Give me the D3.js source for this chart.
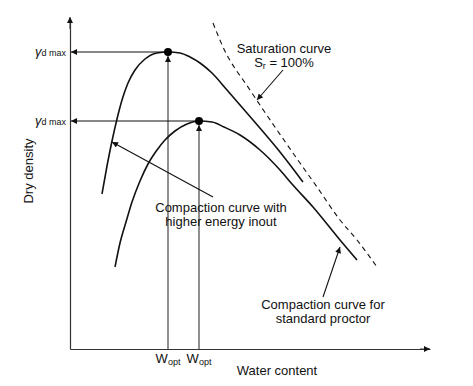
<!DOCTYPE html>
<html>
<head>
<meta charset="utf-8">
<script src="https://cdn.jsdelivr.net/npm/d3@7"></script>
<style>
  body { margin: 0; background: #fff; }
  text { font-family: "Liberation Sans", Arial, sans-serif; fill: #111; }
</style>
</head>
<body>
<div id="chart"></div>
<script>
// data (water content, dry density) in arbitrary units
const higherCurve = [
  [3.2, 15.5], [3.7, 18.3], [4.2, 20.8], [4.7, 23.0], [5.2, 24.9], [5.8, 26.6],
  [6.5, 27.9], [7.5, 29.0], [8.7, 29.6], [9.8, 29.7], [11.0, 29.6], [12.0, 29.2],
  [13.0, 28.6], [14.2, 27.6], [15.7, 25.9], [18.3, 22.9], [21.0, 19.7], [23.3, 16.7]
];
const standardCurve = [
  [4.5, 8.2], [5.0, 10.6], [5.6, 12.7], [6.2, 14.7], [7.0, 16.8], [7.8, 18.5],
  [8.7, 19.9], [9.5, 20.9], [10.5, 21.8], [11.7, 22.5], [12.9, 22.8], [14.2, 22.7],
  [15.4, 22.2], [17.0, 21.4], [19.0, 19.9], [21.0, 17.9], [22.2, 16.5],
  [24.3, 14.2], [27.0, 10.9], [28.7, 8.9]
];
const saturationCurve = [
  [14.3, 32.6], [15.3, 30.2], [18.0, 25.9], [20.7, 21.9], [23.0, 18.6],
  [24.7, 16.2], [27.0, 12.9], [28.7, 10.9], [30.7, 8.2]
];
const peaks = [[9.8, 29.7], [12.9, 22.8]];

// annotations: arrow tip, arrow tail, label lines, label anchor
const notes = [
  {tip: [18.7, 24.9], tail: [21.3, 27.9], lines: ["Saturation curve", "Sr = 100%"], at: [21.4, 29.6]},
  {tip: [4.2, 20.7], tail: [14.3, 15.2], lines: ["Compaction curve with", "higher energy inout"], at: [15.1, 13.7]},
  {tip: [27.0, 10.2], tail: [25.3, 5.2], lines: ["Compaction curve for", "standard proctor"], at: [25.3, 4.0]}
];

const W = 473, H = 386;
const x = d3.scaleLinear().domain([0, 36]).range([70, 430]);
const y = d3.scaleLinear().domain([0, 33]).range([349, 19]);

const svg = d3.select("#chart").append("svg")
  .attr("width", W).attr("height", H);

const defs = svg.append("defs");
defs.append("marker")
  .attr("id", "arr")
  .attr("viewBox", "0 0 10 10")
  .attr("refX", 10).attr("refY", 5)
  .attr("markerWidth", 7).attr("markerHeight", 6)
  .attr("markerUnits", "userSpaceOnUse")
  .attr("orient", "auto")
  .append("path").attr("d", "M0,0 L10,5 L0,10 Z").attr("fill", "#111");

// axes, no ticks
svg.append("g")
  .attr("transform", "translate(0," + y(0) + ")")
  .call(d3.axisBottom(x).tickValues([]).tickSizeOuter(0))
  .select(".domain").attr("stroke", "#333").attr("stroke-width", 1.2);
svg.append("g")
  .attr("transform", "translate(" + x(0) + ",0)")
  .call(d3.axisLeft(y).tickValues([]).tickSizeOuter(0))
  .select(".domain").attr("stroke", "#333").attr("stroke-width", 1.2);

svg.append("line")
  .attr("x1", x(35)).attr("x2", x(36)).attr("y1", y(0)).attr("y2", y(0))
  .attr("stroke", "#333").attr("marker-end", "url(#arr)");
svg.append("line")
  .attr("x1", x(0)).attr("x2", x(0)).attr("y1", y(32)).attr("y2", y(33.2))
  .attr("stroke", "#333").attr("marker-end", "url(#arr)");

// guide lines from peaks
peaks.forEach(p => {
  svg.append("line")
    .attr("x1", x(p[0]) - 4).attr("x2", x(0) + 1)
    .attr("y1", y(p[1])).attr("y2", y(p[1]))
    .attr("stroke", "#111").attr("stroke-width", 1.1)
    .attr("marker-end", "url(#arr)");
  svg.append("line")
    .attr("x1", x(p[0])).attr("x2", x(p[0]))
    .attr("y1", y(0)).attr("y2", y(p[1]) + 4)
    .attr("stroke", "#333").attr("stroke-width", 1.1)
    .attr("marker-end", "url(#arr)");
});

const line = d3.line()
  .x(d => x(d[0])).y(d => y(d[1]))
  .curve(d3.curveMonotoneX);

[higherCurve, standardCurve].forEach(c => {
  svg.append("path").datum(c).attr("d", line)
    .attr("fill", "none").attr("stroke", "#111").attr("stroke-width", 1.6);
});
svg.append("path").datum(saturationCurve).attr("d", line)
  .attr("fill", "none").attr("stroke", "#111").attr("stroke-width", 1.1)
  .attr("stroke-dasharray", "5,4");

svg.selectAll("circle.peak").data(peaks).enter().append("circle")
  .attr("class", "peak")
  .attr("cx", d => x(d[0])).attr("cy", d => y(d[1])).attr("r", 4)
  .attr("fill", "#000");

// annotations
notes.forEach(n => {
  svg.append("line")
    .attr("x1", x(n.tail[0])).attr("y1", y(n.tail[1]))
    .attr("x2", x(n.tip[0])).attr("y2", y(n.tip[1]))
    .attr("stroke", "#111").attr("stroke-width", 1.1)
    .attr("marker-end", "url(#arr)");
  n.lines.forEach((s, i) => {
    const t = svg.append("text")
      .attr("x", x(n.at[0])).attr("y", y(n.at[1]) + i * 14)
      .attr("text-anchor", "middle")
      .attr("font-size", 13);
    if (s.startsWith("Sr")) {
      t.append("tspan").text("S");
      t.append("tspan").text("r").attr("font-size", 9).attr("dy", 2);
      t.append("tspan").text(" = 100%").attr("dy", -2);
    } else {
      t.text(s);
    }
  });
});

// gamma d max labels
peaks.forEach(p => {
  const t = svg.append("text")
    .attr("x", x(0) - 4).attr("y", y(p[1]) + 4)
    .attr("text-anchor", "end");
  t.append("tspan").text("γ").attr("font-size", 13).attr("font-style", "italic");
  t.append("tspan").text("d max").attr("font-size", 9);
});

// W opt labels
peaks.forEach(p => {
  const t = svg.append("text")
    .attr("x", x(p[0])).attr("y", y(0) + 14)
    .attr("text-anchor", "middle");
  t.append("tspan").text("W").attr("font-size", 13);
  t.append("tspan").text("opt").attr("font-size", 9).attr("dy", 2);
});

svg.append("text")
  .attr("x", x(20.7)).attr("y", y(0) + 26)
  .attr("text-anchor", "middle").attr("font-size", 13)
  .text("Water content");

svg.append("text")
  .attr("transform", "translate(33," + y(17.8) + ") rotate(-90)")
  .attr("text-anchor", "middle").attr("font-size", 13)
  .text("Dry density");
</script>
</body>
</html>
